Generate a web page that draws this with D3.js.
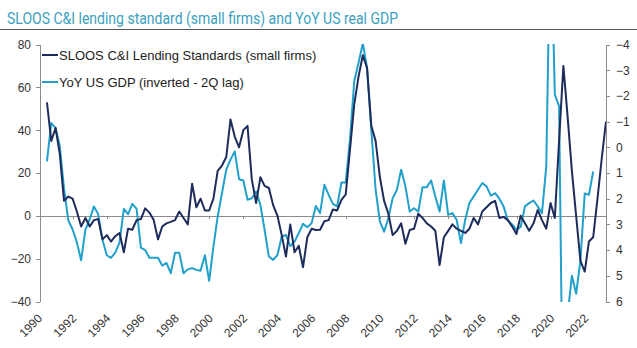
<!DOCTYPE html>
<meta charset="utf-8">
<style>
body { margin: 0; background: #fff; }
svg { font-family: "Liberation Sans", Arial, sans-serif; }
.axis path, .axis line { stroke: #8c8c8c; shape-rendering: crispEdges; }
.axis text { fill: #333; font-size: 12px; }
.line { fill: none; stroke-width: 2px; stroke-linejoin: round; }
</style>
<body>
<svg width="637" height="348"></svg>
<script src="https://cdnjs.cloudflare.com/ajax/libs/d3/7.8.5/d3.min.js"></script>
<script>

// quarterly, first point 1990 Q2
var startYear = 1990, startQuarter = 2;

// SLOOS C&I lending standards, small firms (net %, left axis)
var sloos = [53, 35, 41, 29, 7, 9, 8, 2, -5, -1, -5, -2, -1.5, -11, -9, -12, -9.5, -8, -17, -6,
  -6.5, -2, -1.5, 3.5, 1.5, -2, -11, -5, -3.5, -2.8, -2, 2, -1, -4, 15, 4, 8, 2.5, 2.5, 8,
  21, 23.5, 27.5, 45, 37, 32, 40, 42, 17, 6, 18, 14, 13, 5, 0, -9, -19, -4, -17, -14,
  -24, -10, -6, -6.6, -6.5, -2.5, -2, 3, 2.5, 7.5, 10, 31, 52, 65, 75, 69, 42, 35, 18, 7,
  1, -9, -7, -3.5, -13, -6.6, -6, 1, -1, -3.5, -5, -7, -23, -10, -7, -4, -6, -7, -8, -6,
  -1, -4, 2, 4, 6, 7, -1, -0.5, -2, -5, -8.5, 0, -3.5, -7, -3.5, 2.7, -2, -6, 6, -1,
  35, 70, 46, 21, 0, -21, -26, -12, -10, 8, 27, 44];

// YoY US real GDP, 2Q lag (%, right axis, inverted)
var gdp = [0.55, -0.95, -0.75, -0.05, 1.6, 2.85, 3.2, 3.7, 4.4, 3.2, 2.8, 2.3, 2.6, 3.6, 4.2, 4.3, 4.1, 3.7, 2.4, 2.6,
  2.2, 2.4, 3.9, 4.0, 4.3, 4.3, 4.3, 4.6, 4.5, 4.9, 4.1, 4.1, 4.9, 4.75, 4.7, 4.77, 4.8, 4.2, 5.2, 3.86,
  2.7, 1.78, 0.87, 0.48, 0.16, 1.24, 1.29, 2.04, 1.98, 1.72, 2.24, 3.21, 4.25, 4.38, 4.19, 3.47, 3.41, 3.84, 3.67, 3.34,
  2.98, 3.11, 2.95, 2.28, 2.56, 1.46, 1.85, 2.2, 2.3, 1.37, 1.37, -0.3, -2.57, -3.29, -4.04, -3.09, -0.69, 1.65, 2.89, 3.28,
  2.76, 1.98, 1.65, 0.87, 1.52, 2.5, 2.37, 2.5, 1.55, 1.55, 1.29, 1.91, 2.5, 1.29, 2.63, 2.56, 2.82, 3.73, 2.82, 2.17,
  1.91, 1.65, 1.39, 1.52, 1.88, 1.78, 2.0, 2.3, 2.85, 3.0, 3.2, 3.1, 2.3, 2.17, 2.07, 2.3, 2.56, 0.74, -9.1, -2.05,
  -1.6, 12.2, 6.5, 5.0, 5.7, 4.4, 1.8, 1.85, 0.94, null, null, null];

var leftTicks = [80, 60, 40, 20, 0, -20, -40];
var rightTicks = [-4, -3, -2, -1, 0, 1, 2, 3, 4, 5, 6];
var labelYears = d3.range(1990, 2023, 2);
var tickYears = d3.range(1992, 2023, 2);

var seriesNames = ["SLOOS C&I Lending Standards (small firms)", "YoY US GDP (inverted - 2Q lag)"];
var colors = ["#1e2c5c", "#22a0cc"];

function quarterEnd(i) {
  var m = (startQuarter - 1) * 3 + 3 + i * 3;
  return new Date(startYear, m, 0);
}

var svg = d3.select("svg");

var x = d3.scaleTime()
  .domain([new Date(1990, 1, 1), new Date(2023, 2, 31)])
  .range([40, 606]);
var yL = d3.scaleLinear().domain([-40, 80]).range([301.5, 44.5]);
var yR = d3.scaleLinear().domain([6, -4]).range([301.5, 44.5]);

// title
svg.append("text")
  .attr("x", 7).attr("y", 24)
  .attr("fill", "#3b9fc0")
  .style("font-family", "Roboto, sans-serif")
  .style("font-size", "17px")
  .attr("textLength", 391).attr("lengthAdjust", "spacingAndGlyphs")
  .text("SLOOS C&I lending standard (small firms) and YoY US real GDP");

svg.append("line")
  .attr("x1", 0).attr("x2", 637).attr("y1", 29.5).attr("y2", 29.5)
  .attr("stroke", "#555");

// axes
svg.append("g").attr("class", "axis")
  .attr("transform", "translate(40,0)")
  .call(d3.axisLeft(yL).tickValues(leftTicks).tickSize(4).tickSizeOuter(0).tickPadding(5));

svg.append("g").attr("class", "axis")
  .attr("transform", "translate(606,0)")
  .call(d3.axisRight(yR).tickValues(rightTicks).tickSize(4).tickSizeOuter(0).tickPadding(6)
    .tickFormat(d3.format("d")));

svg.append("g").attr("class", "axis")
  .attr("transform", "translate(0," + yL(0) + ")")
  .call(d3.axisBottom(x).tickValues(tickYears.map(function(y) { return new Date(y, 0, 1); }))
    .tickSize(3).tickSizeOuter(0).tickFormat(""));

var xl = svg.append("g").attr("class", "axis")
  .attr("transform", "translate(0,319)")
  .call(d3.axisBottom(x).tickValues(labelYears.map(function(y) { return new Date(y, 0, 1); }))
    .tickSize(0).tickFormat(d3.timeFormat("%Y")));
xl.select(".domain").remove();
xl.selectAll("text")
  .attr("y", 0).attr("dy", 0)
  .attr("text-anchor", "end")
  .attr("transform", "translate(4,0) rotate(-45)");

// lines
svg.append("clipPath").attr("id", "plot")
  .append("rect").attr("x", 40).attr("y", 44).attr("width", 566).attr("height", 258);

var lineL = d3.line()
  .x(function(d, i) { return x(quarterEnd(i)); })
  .y(function(d) { return yL(d); });
var lineR = d3.line()
  .defined(function(d) { return d != null; })
  .x(function(d, i) { return x(quarterEnd(i)); })
  .y(function(d) { return yR(d); });

var plot = svg.append("g").attr("clip-path", "url(#plot)");
plot.append("path").datum(gdp).attr("class", "line")
  .attr("stroke", colors[1]).attr("d", lineR);
plot.append("path").datum(sloos).attr("class", "line")
  .attr("stroke", colors[0]).attr("d", lineL);

// legend
var legend = svg.selectAll(".legend").data(seriesNames).enter()
  .append("g").attr("class", "legend")
  .attr("transform", function(d, i) { return "translate(42," + (55 + i * 27) + ")"; });
legend.append("line")
  .attr("x1", 0).attr("x2", 16).attr("y1", 0).attr("y2", 0)
  .attr("stroke", function(d, i) { return colors[i]; })
  .attr("stroke-width", 2);
legend.append("text")
  .attr("x", 17).attr("y", 4.5)
  .attr("fill", "#222")
  .style("font-size", "13px")
  .text(function(d) { return d; });

</script>
